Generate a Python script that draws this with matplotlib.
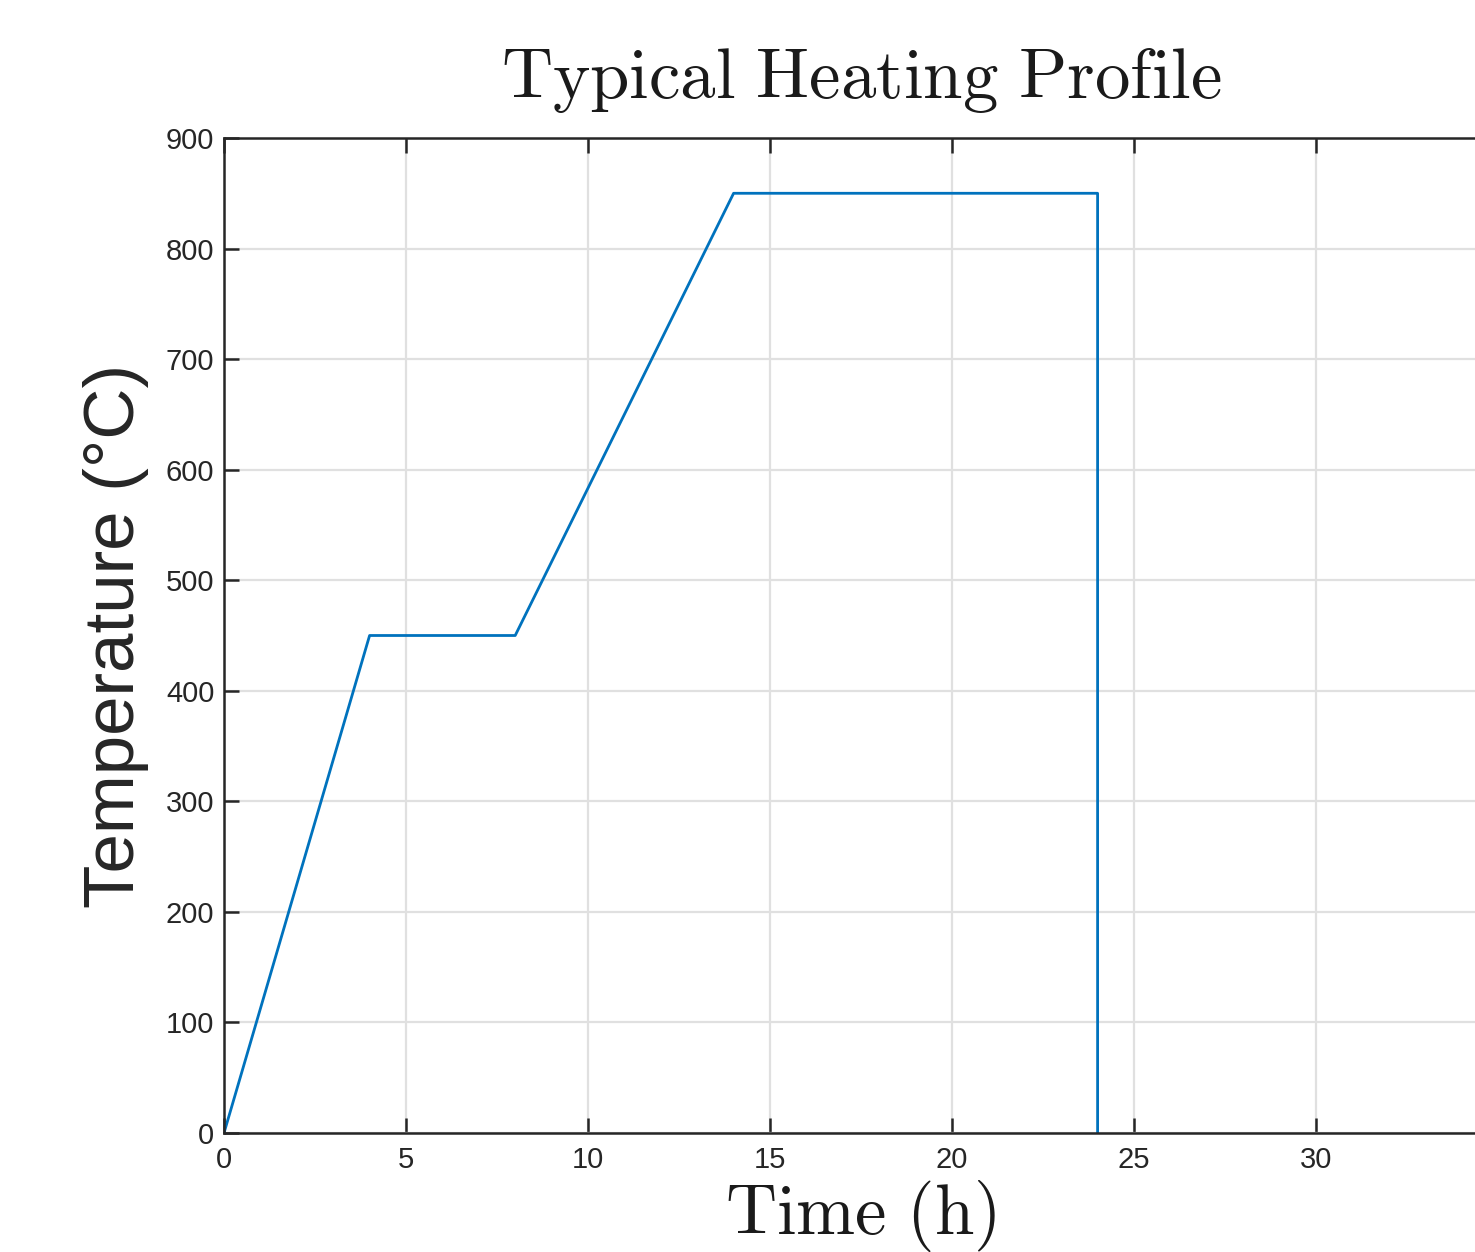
import matplotlib
matplotlib.use('Agg')
from matplotlib import pyplot as plt

# Heating profile
time_h = [0, 4, 8, 14, 24, 24]
temp_c = [0, 450, 450, 850, 850, 0]
x_ticks = [0, 5, 10, 15, 20, 25, 30]
y_ticks = [0, 100, 200, 300, 400, 500, 600, 700, 800, 900]

plt.rcParams['mathtext.fontset'] = 'cm'
plt.rcParams['font.family'] = ['Liberation Sans', 'DejaVu Sans']

fig = plt.figure(figsize=(14.75, 12.52), dpi=100)
ax = fig.add_axes([224 / 1475, 1 - 1133 / 1252, 1274 / 1475, (1133 - 138) / 1252])

ax.plot(time_h, temp_c, color='#0072BD', linewidth=2)

ax.set_xlim(0, 35)
ax.set_ylim(0, 900)
ax.set_xticks(x_ticks)
ax.set_yticks(y_ticks)
ax.grid(True, color='#e0e0e0', linewidth=1.6)
ax.set_axisbelow(True)

for s in ax.spines.values():
    s.set_color('#262626')
    s.set_linewidth(1.8)
ax.tick_params(direction='in', length=11, width=1.8, color='#262626',
               labelcolor='#262626', labelsize=21, top=True, right=True, pad=7)
ax.tick_params(axis='x', pad=9)

ax.set_title(r'$\mathrm{Typical\ Heating\ Profile}$', fontsize=51, pad=29, color='#1a1a1a')
ax.set_xlabel(r'$\mathrm{Time\ (h)}$', fontsize=51, labelpad=3, color='#1a1a1a')
ax.set_ylabel('Temperature (°C)', fontsize=51, labelpad=12, color='#262626')

fig.savefig('out.png', dpi=100)
